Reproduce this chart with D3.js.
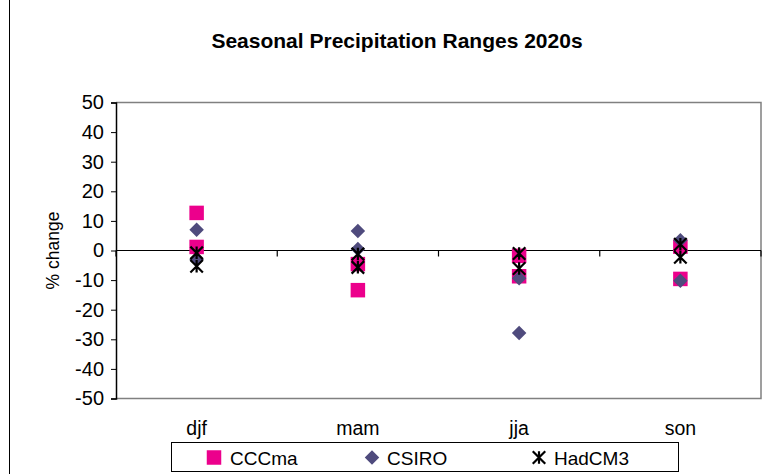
<!DOCTYPE html>
<html>
<head>
<meta charset="utf-8">
<script src="https://cdn.jsdelivr.net/npm/d3@7"></script>
<style>
  html, body { margin: 0; padding: 0; background: #fff; }
  svg { display: block; font-family: "Liberation Sans", Arial, sans-serif; }
</style>
</head>
<body>
<svg id="chart" width="776" height="474"></svg>
<script>
// Seasons on the category axis
const seasons = ["djf", "mam", "jja", "son"];

// Two projections per model and season (% change in precipitation)
const cccma  = [[12.7, 1.2], [-4.6, -13.4], [-1.8, -8.7], [1.3, -9.6]];
const csiro  = [[7.0, -3.0], [6.6, 0.5],    [-9.4, -27.9], [3.5, -10.2]];
const hadcm3 = [[-0.8, -5.3], [-1.2, -5.7], [-1.0, -6.1], [2.1, -2.3]];

const seriesNames = ["CCCma", "CSIRO", "HadCM3"];
const yTicks = [50, 40, 30, 20, 10, 0, -10, -20, -30, -40, -50];

const svg = d3.select("#chart");
const plot = { left: 116, right: 761, top: 102.5, bottom: 398.5 };

const x = d3.scaleBand().domain(seasons).range([plot.left, plot.right]);
const y = d3.scaleLinear().domain([-50, 50]).range([plot.bottom, plot.top]);

// outer chart frame (left edge visible)
svg.append("line")
  .attr("x1", 9.5).attr("x2", 9.5).attr("y1", 0).attr("y2", 474)
  .attr("stroke", "#000").attr("stroke-width", 1);

// title
svg.append("text")
  .attr("x", 397).attr("y", 48)
  .attr("text-anchor", "middle")
  .attr("font-size", 21).attr("font-weight", "bold")
  .text("Seasonal Precipitation Ranges 2020s");

// plot area border (top and right)
svg.append("path")
  .attr("d", `M${plot.left},${plot.top}H${plot.right}V${plot.bottom}H${plot.left}`)
  .attr("fill", "none").attr("stroke", "#808080").attr("stroke-width", 1.5);

// y axis
const yAxis = d3.axisLeft(y).tickValues(yTicks).tickSize(5).tickPadding(7).tickFormat(d => String(d));
const gy = svg.append("g").attr("transform", `translate(${plot.left},0)`).call(yAxis);
gy.select(".domain").attr("stroke", "#000").attr("stroke-width", 1.5);
gy.selectAll(".tick line").attr("stroke", "#000");
gy.selectAll(".tick text").attr("font-size", 20).attr("fill", "#000")
  .attr("font-family", "Liberation Sans, Arial, sans-serif");

// x axis crossing at zero, ticks at band boundaries
const gx = svg.append("g").attr("transform", `translate(0,${y(0)})`);
gx.append("line")
  .attr("x1", plot.left).attr("x2", plot.right)
  .attr("stroke", "#000").attr("stroke-width", 1.2);
const edges = seasons.map(s => x(s)).concat([x(seasons[seasons.length - 1]) + x.bandwidth()]);
gx.selectAll("line.tk").data(edges).join("line").attr("class", "tk")
  .attr("x1", d => d).attr("x2", d => d).attr("y1", 0).attr("y2", 6)
  .attr("stroke", "#000").attr("stroke-width", 1.2);

// category labels below the plot
svg.append("g").selectAll("text").data(seasons).join("text")
  .attr("x", d => x(d) + x.bandwidth() / 2)
  .attr("y", 435)
  .attr("text-anchor", "middle")
  .attr("font-size", 19.5)
  .text(d => d);

// y axis title
svg.append("text")
  .attr("transform", `translate(59,${y(0)}) rotate(-90)`)
  .attr("text-anchor", "middle")
  .attr("font-size", 17.5)
  .text("% change");

// marker shapes
const pink = "#EC008C", slate = "#4F4B7D";
const squarePath = s => `M${-s/2},${-s/2}h${s}v${s}h${-s}Z`;
const diamondPath = s => `M0,${-s/2}L${s/2},0L0,${s/2}L${-s/2},0Z`;
const starPath = s => `M${-s/2},${-s/2}L${s/2},${s/2}M${s/2},${-s/2}L${-s/2},${s/2}M0,${-s/2}V${s/2}`;

function flatten(arr) {
  const pts = [];
  arr.forEach((vals, i) => vals.forEach(v => pts.push({ season: seasons[i], value: v })));
  return pts;
}
const cx = d => x(d.season) + x.bandwidth() / 2;

svg.append("g").selectAll("path").data(flatten(cccma)).join("path")
  .attr("transform", d => `translate(${cx(d)},${y(d.value)})`)
  .attr("d", squarePath(14.5)).attr("fill", pink);

svg.append("g").selectAll("path").data(flatten(csiro)).join("path")
  .attr("transform", d => `translate(${cx(d)},${y(d.value)})`)
  .attr("d", diamondPath(14.5)).attr("fill", slate);

svg.append("g").selectAll("path").data(flatten(hadcm3)).join("path")
  .attr("transform", d => `translate(${cx(d)},${y(d.value)})`)
  .attr("d", starPath(12.5)).attr("fill", "none").attr("stroke", "#000").attr("stroke-width", 2.2);

// legend
const lg = svg.append("g");
lg.append("rect").attr("x", 171.5).attr("y", 442.5).attr("width", 507).attr("height", 29)
  .attr("fill", "#fff").attr("stroke", "#000").attr("stroke-width", 1);
const legendItems = [
  { name: seriesNames[0], mx: 214, tx: 230, shape: "square" },
  { name: seriesNames[1], mx: 372, tx: 387, shape: "diamond" },
  { name: seriesNames[2], mx: 539, tx: 554, shape: "star" }
];
const ly = 457.5;
legendItems.forEach(it => {
  const m = lg.append("path").attr("transform", `translate(${it.mx},${ly})`);
  if (it.shape === "square") m.attr("d", squarePath(14.5)).attr("fill", pink);
  else if (it.shape === "diamond") m.attr("d", diamondPath(14.5)).attr("fill", slate);
  else m.attr("d", starPath(12.5)).attr("fill", "none").attr("stroke", "#000").attr("stroke-width", 2.2);
  lg.append("text").attr("x", it.tx).attr("y", ly + 7).attr("font-size", 19).text(it.name);
});
</script>
</body>
</html>
